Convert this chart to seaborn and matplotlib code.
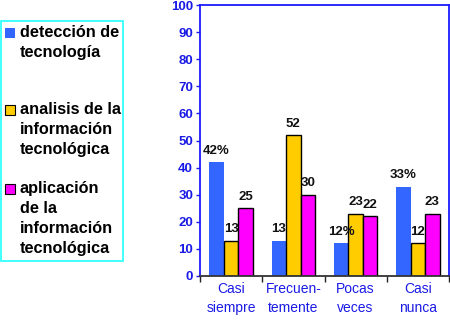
import matplotlib
matplotlib.use("Agg")
import matplotlib.pyplot as plt
import seaborn as sns
import pandas as pd
from matplotlib.patches import Rectangle

categories = ["Casi\nsiempre", "Frecuen-\ntemente", "Pocas\nveces", "Casi\nnunca"]
series = ["detección de\ntecnología",
          "analisis de la\ninformación\ntecnológica",
          "aplicación\nde la\ninformación\ntecnológica"]
deteccion = [42, 13, 12, 33]
analisis = [13, 52, 23, 12]
aplicacion = [25, 30, 22, 23]
deteccion_labels = ["42%", "13", "12%", "33%"]
analisis_labels = ["13", "52", "23", "12"]
aplicacion_labels = ["25", "30", "22", "23"]
yticks = [0, 10, 20, 30, 40, 50, 60, 70, 80, 90, 100]
colors = ["#3366FF", "#FFCC00", "#FF00FF"]

sns.set_theme(style="white")
plt.rcParams['font.family'] = ['Liberation Sans', 'DejaVu Sans']

W, H = 450, 326
fig = plt.figure(figsize=(W / 100, H / 100), dpi=100)
ax = fig.add_axes([200 / W, 1 - 276 / H, 249 / W, 271 / H])

df = pd.DataFrame({
    "cat": categories * 3,
    "val": deteccion + analisis + aplicacion,
    "serie": [series[0]] * 4 + [series[1]] * 4 + [series[2]] * 4,
})
sns.barplot(data=df, x="cat", y="val", hue="serie", order=categories,
            hue_order=series, palette=colors, saturation=1, width=0.7,
            ax=ax, legend=False)

all_labels = [deteccion_labels, analisis_labels, aplicacion_labels]
for i, cont in enumerate(ax.containers):
    for bar in cont:
        if i == 0:
            bar.set_linewidth(0)
        else:
            bar.set_edgecolor("black")
            bar.set_linewidth(1)
    ax.bar_label(cont, labels=all_labels[i], padding=4, fontsize=9.5,
                 fontweight="bold", color="#111111")

blue_txt = "#1a1ae6"
ax.set_ylim(0, 100)
ax.set_xlim(-0.5, 3.5)
ax.set_yticks(yticks)
ax.set_yticklabels([str(v) for v in yticks], color=blue_txt,
                   fontweight="bold", fontsize=9.5)
ax.set_xticks(range(4))
ax.set_xticklabels(categories, color=blue_txt, fontsize=10, linespacing=1.45)
ax.set_xticks([-0.5, 0.5, 1.5, 2.5, 3.5], minor=True)
ax.tick_params(axis="x", which="major", length=0, pad=4)
ax.tick_params(axis="x", which="minor", length=4, width=1, color="#222222",
               direction="out", bottom=True)
ax.tick_params(axis="y", length=3, width=1, color=blue_txt, left=True,
               direction="out", pad=2)
ax.set_xlabel("")
ax.set_ylabel("")
for s in ["left", "top", "right"]:
    ax.spines[s].set_color("#1a1aff")
    ax.spines[s].set_linewidth(1.3)
    ax.spines[s].set_visible(True)
ax.spines["bottom"].set_color("#333333")
ax.spines["bottom"].set_linewidth(1.3)


def fx(px):
    return px / W


def fy(py):
    return 1 - py / H


# manual legend
fig.patches.append(Rectangle((fx(0.7), fy(261)), fx(123) - fx(0.7),
                             fy(21) - fy(261), transform=fig.transFigure,
                             fill=False, edgecolor="#33FFFF", lw=1.3))
entry_tops = [28, 105, 184]
for i, (lab, col) in enumerate(zip(series, colors)):
    top = entry_tops[i]
    fig.patches.append(Rectangle((fx(4.5), fy(top + 10)), fx(10.5), fy(0) - fy(10),
                                 transform=fig.transFigure, facecolor=col,
                                 edgecolor="none" if i == 0 else "black",
                                 lw=0.8))
    fig.text(fx(20), fy(top - 3), lab, ha="left", va="top", fontsize=11.7,
             fontweight="bold", color="black", linespacing=1.42)

fig.savefig("out.png", dpi=100)
